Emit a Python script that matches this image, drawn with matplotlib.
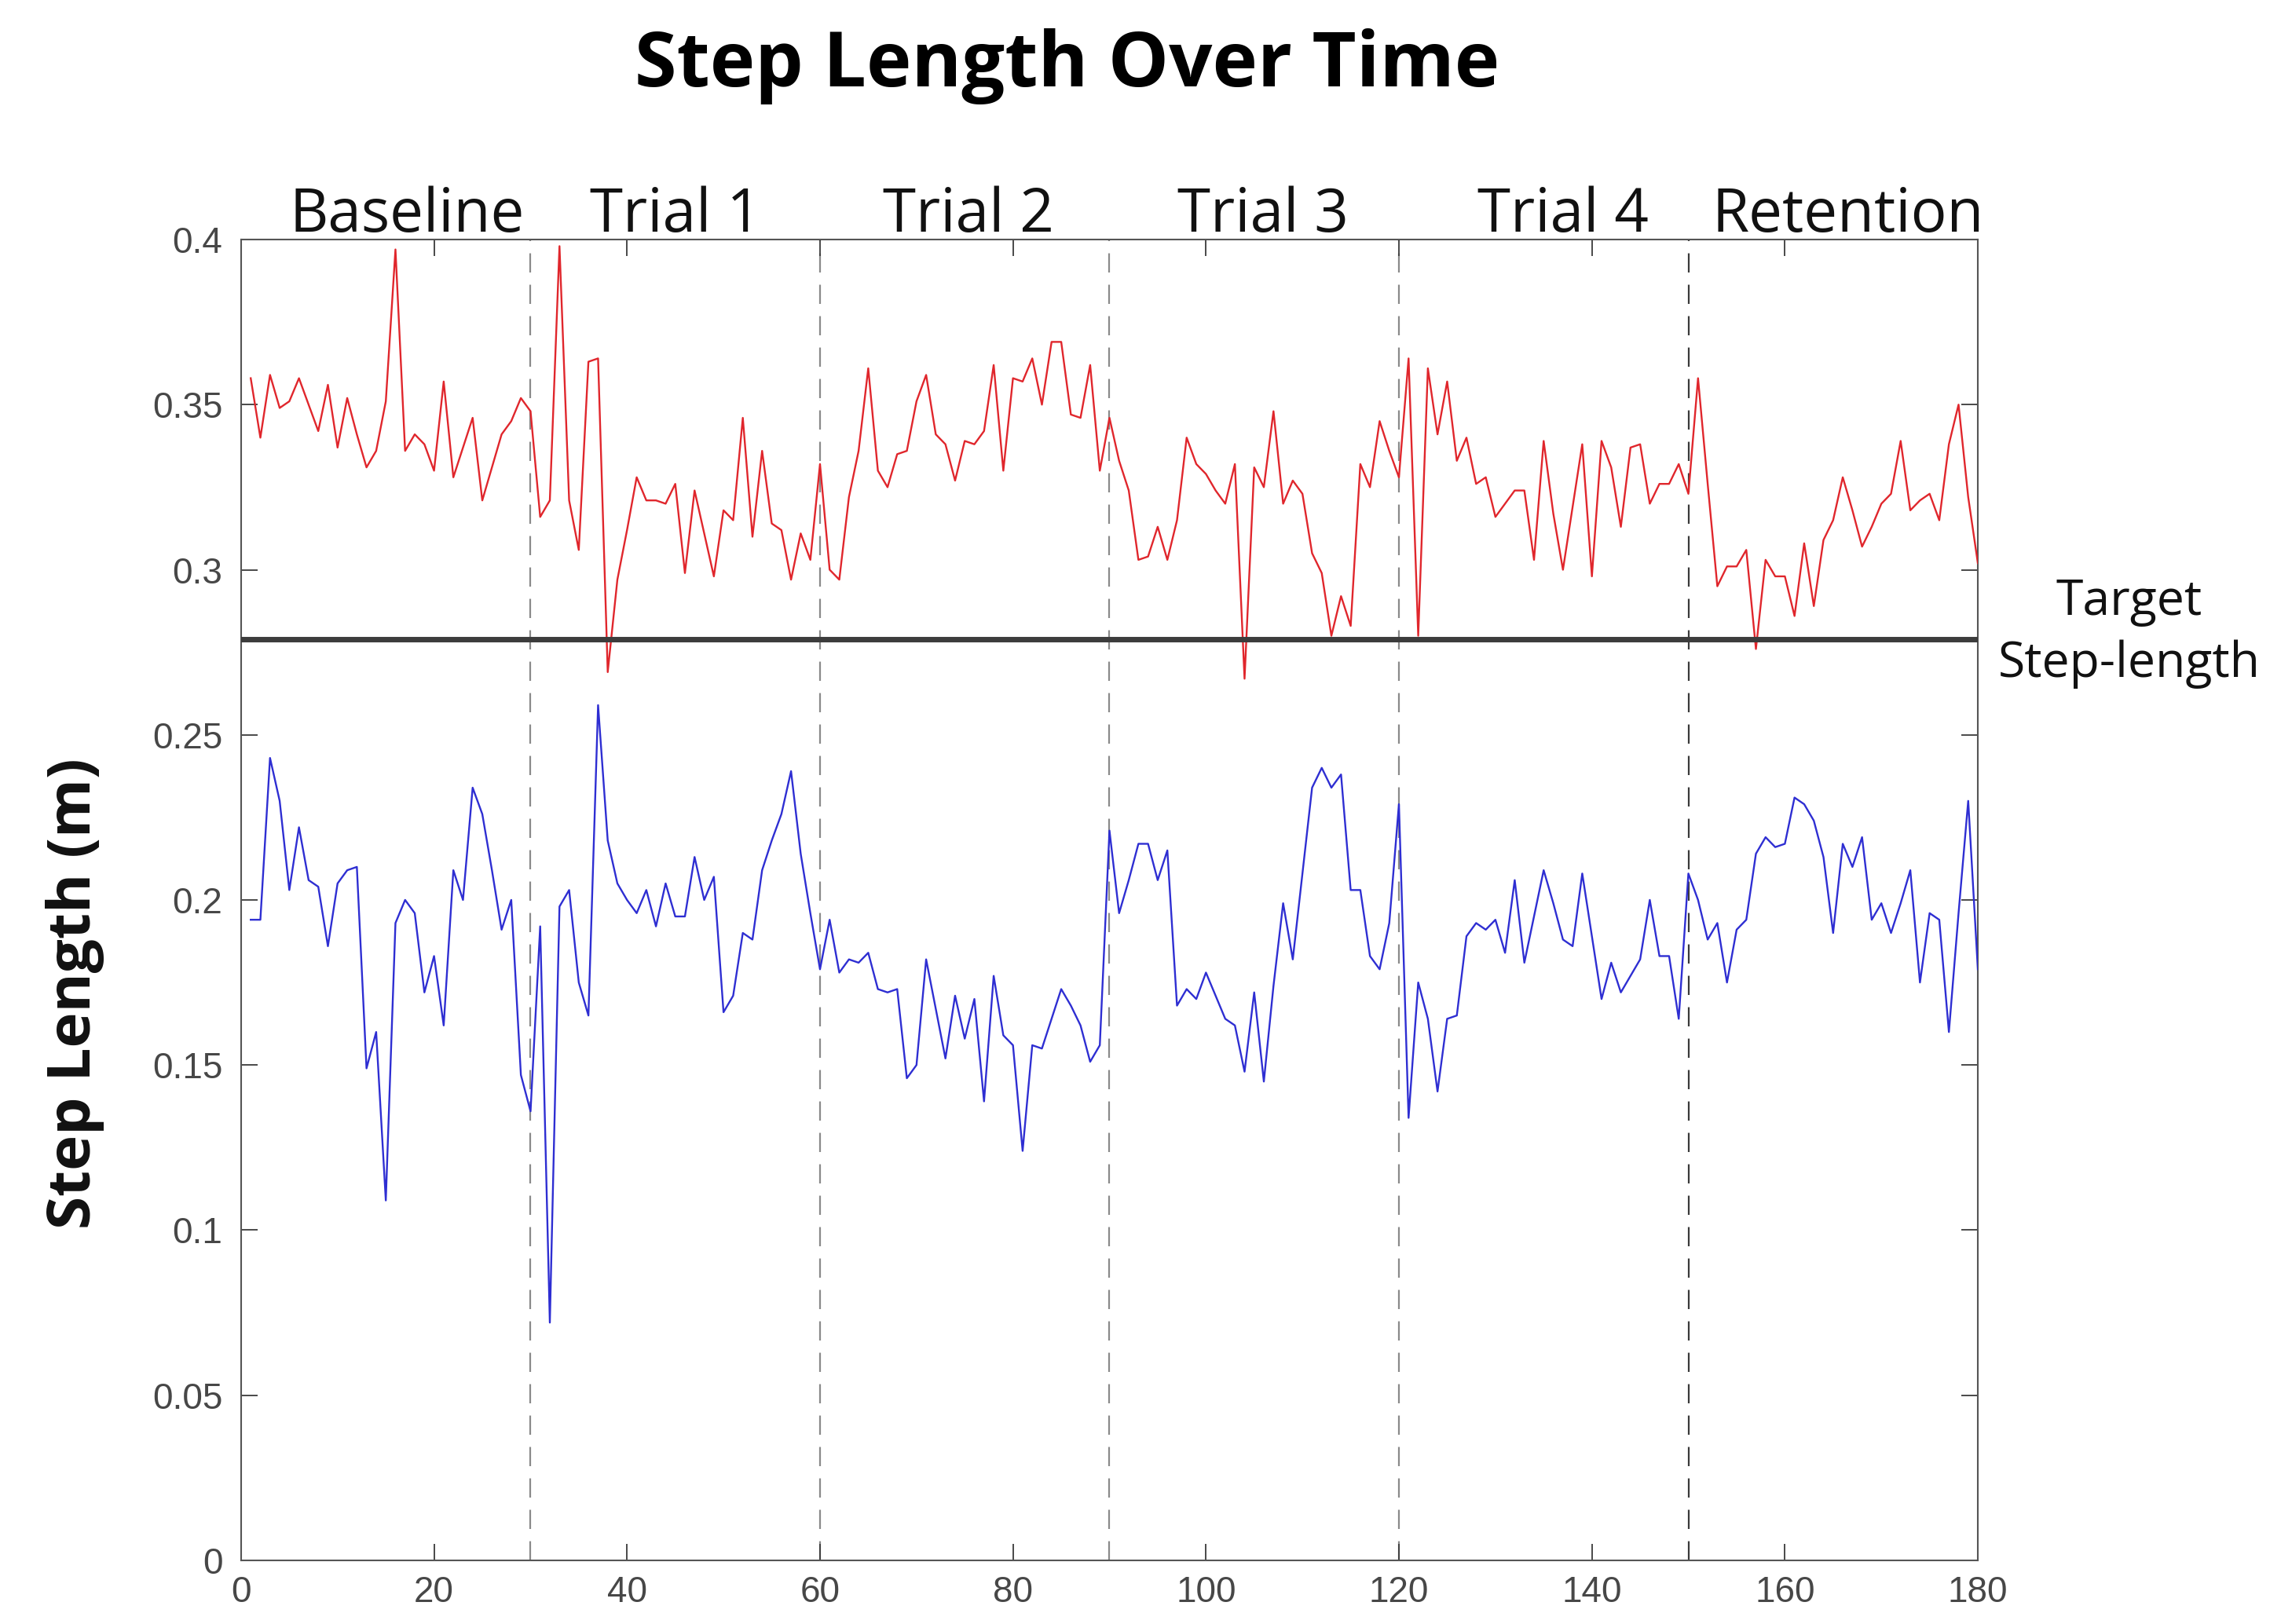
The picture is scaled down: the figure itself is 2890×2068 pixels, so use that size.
import numpy as np
import matplotlib
matplotlib.use("Agg")
import matplotlib.pyplot as plt
import matplotlib.transforms as mtransforms

# ── Data ──────────────────────────────────────────────────────
steps = np.arange(1, 181)

red_steps = [
    0.358, 0.340, 0.359, 0.349, 0.351, 0.358, 0.350, 0.342, 0.356, 0.337,
    0.352, 0.341, 0.331, 0.336, 0.351, 0.397, 0.336, 0.341, 0.338, 0.330,
    0.357, 0.328, 0.337, 0.346, 0.321, 0.331, 0.341, 0.345, 0.352, 0.348,
    0.316, 0.321, 0.398, 0.321, 0.306, 0.363, 0.364, 0.269, 0.297, 0.312,
    0.328, 0.321, 0.321, 0.320, 0.326, 0.299, 0.324, 0.311, 0.298, 0.318,
    0.315, 0.346, 0.310, 0.336, 0.314, 0.312, 0.297, 0.311, 0.303, 0.332,
    0.300, 0.297, 0.322, 0.336, 0.361, 0.330, 0.325, 0.335, 0.336, 0.351,
    0.359, 0.341, 0.338, 0.327, 0.339, 0.338, 0.342, 0.362, 0.330, 0.358,
    0.357, 0.364, 0.350, 0.369, 0.369, 0.347, 0.346, 0.362, 0.330, 0.346,
    0.333, 0.324, 0.303, 0.304, 0.313, 0.303, 0.315, 0.340, 0.332, 0.329,
    0.324, 0.320, 0.332, 0.267, 0.331, 0.325, 0.348, 0.320, 0.327, 0.323,
    0.305, 0.299, 0.280, 0.292, 0.283, 0.332, 0.325, 0.345, 0.336, 0.328,
    0.364, 0.280, 0.361, 0.341, 0.357, 0.333, 0.340, 0.326, 0.328, 0.316,
    0.320, 0.324, 0.324, 0.303, 0.339, 0.317, 0.300, 0.319, 0.338, 0.298,
    0.339, 0.331, 0.313, 0.337, 0.338, 0.320, 0.326, 0.326, 0.332, 0.323,
    0.358, 0.326, 0.295, 0.301, 0.301, 0.306, 0.276, 0.303, 0.298, 0.298,
    0.286, 0.308, 0.289, 0.309, 0.315, 0.328, 0.318, 0.307, 0.313, 0.320,
    0.323, 0.339, 0.318, 0.321, 0.323, 0.315, 0.338, 0.350, 0.322, 0.302,
]

blue_steps = [
    0.194, 0.194, 0.243, 0.230, 0.203, 0.222, 0.206, 0.204, 0.186, 0.205,
    0.209, 0.210, 0.149, 0.160, 0.109, 0.193, 0.200, 0.196, 0.172, 0.183,
    0.162, 0.209, 0.200, 0.234, 0.226, 0.209, 0.191, 0.200, 0.147, 0.136,
    0.192, 0.072, 0.198, 0.203, 0.175, 0.165, 0.259, 0.218, 0.205, 0.200,
    0.196, 0.203, 0.192, 0.205, 0.195, 0.195, 0.213, 0.200, 0.207, 0.166,
    0.171, 0.190, 0.188, 0.209, 0.218, 0.226, 0.239, 0.214, 0.196, 0.179,
    0.194, 0.178, 0.182, 0.181, 0.184, 0.173, 0.172, 0.173, 0.146, 0.150,
    0.182, 0.167, 0.152, 0.171, 0.158, 0.170, 0.139, 0.177, 0.159, 0.156,
    0.124, 0.156, 0.155, 0.164, 0.173, 0.168, 0.162, 0.151, 0.156, 0.221,
    0.196, 0.206, 0.217, 0.217, 0.206, 0.215, 0.168, 0.173, 0.170, 0.178,
    0.171, 0.164, 0.162, 0.148, 0.172, 0.145, 0.174, 0.199, 0.182, 0.208,
    0.234, 0.240, 0.234, 0.238, 0.203, 0.203, 0.183, 0.179, 0.193, 0.229,
    0.134, 0.175, 0.164, 0.142, 0.164, 0.165, 0.189, 0.193, 0.191, 0.194,
    0.184, 0.206, 0.181, 0.195, 0.209, 0.199, 0.188, 0.186, 0.208, 0.189,
    0.170, 0.181, 0.172, 0.177, 0.182, 0.200, 0.183, 0.183, 0.164, 0.208,
    0.200, 0.188, 0.193, 0.175, 0.191, 0.194, 0.214, 0.219, 0.216, 0.217,
    0.231, 0.229, 0.224, 0.213, 0.190, 0.217, 0.210, 0.219, 0.194, 0.199,
    0.190, 0.199, 0.209, 0.175, 0.196, 0.194, 0.160, 0.196, 0.230, 0.179,
]

target = 0.279
phase_bounds = [30, 60, 90, 120, 150]
phase_names = ["Baseline", "Trial 1", "Trial 2", "Trial 3", "Trial 4", "Retention"]
phase_label_x = [17.2, 45.0, 75.4, 105.9, 137.0, 166.5]

x_ticks = [0, 20, 40, 60, 80, 100, 120, 140, 160, 180]
y_ticks = [0, 0.05, 0.1, 0.15, 0.2, 0.25, 0.3, 0.35, 0.4]
y_tick_labels = ["0", "0.05", "0.1", "0.15", "0.2", "0.25", "0.3", "0.35", "0.4"]

# ── Figure ────────────────────────────────────────────────────
fig = plt.figure(figsize=(28.9, 20.68), dpi=100)
ax = fig.add_axes([0.1062, 0.0392, 0.7651, 0.8133])

# phase boundaries
for b in phase_bounds:
    col = "#3a3a3a" if b == 150 else "#8a8a8a"
    ax.axvline(b, color=col, linewidth=1.6, linestyle=(0, (11, 7)), zorder=1)

ax.plot(steps, red_steps, color="#e0262c", linewidth=1.7, zorder=3)
ax.plot(steps, blue_steps, color="#2e2ed2", linewidth=1.7, zorder=3)
ax.axhline(target, color="#3c3c3c", linewidth=5, zorder=4)

ax.set_xlim(0, 180)
ax.set_ylim(0, 0.4)
ax.set_xticks(x_ticks)
ax.set_yticks(y_ticks)
ax.set_yticklabels(y_tick_labels)
ax.tick_params(direction="in", length=15, width=1.3, color="#3a3a3a",
               top=True, right=True, labelsize=33, labelcolor="#474747")
ax.tick_params(axis="x", pad=14)
ax.tick_params(axis="y", pad=17)
for lab in ax.get_xticklabels() + ax.get_yticklabels():
    lab.set_family(["Liberation Sans", "DejaVu Sans"])
for s in ax.spines.values():
    s.set_color("#555555")
    s.set_linewidth(1.5)

# phase names above the axes
trans = mtransforms.blended_transform_factory(ax.transData, fig.transFigure)
for name, xp in zip(phase_names, phase_label_x):
    ax.text(xp, 0.867, name, transform=trans, ha="center", va="center",
            fontsize=55, family="Open Sans", color="#111111")

# target label on the right
fig.text(0.938, 0.629, "Target", ha="center", va="center",
         fontsize=45, family="Open Sans", color="#111111")
fig.text(0.938, 0.591, "Step-length", ha="center", va="center",
         fontsize=45, family="Open Sans", color="#111111")

fig.text(0.033, 0.388, "Step Length (m)", rotation=90, ha="center",
         va="center", fontsize=55, fontweight="bold", family="Open Sans",
         color="#111111")

fig.text(0.47, 0.959, "Step Length Over Time", ha="center", va="center",
         fontsize=70, fontweight="bold", family="Open Sans", color="#000000")

fig.savefig("out.png", dpi=100, facecolor="white")
